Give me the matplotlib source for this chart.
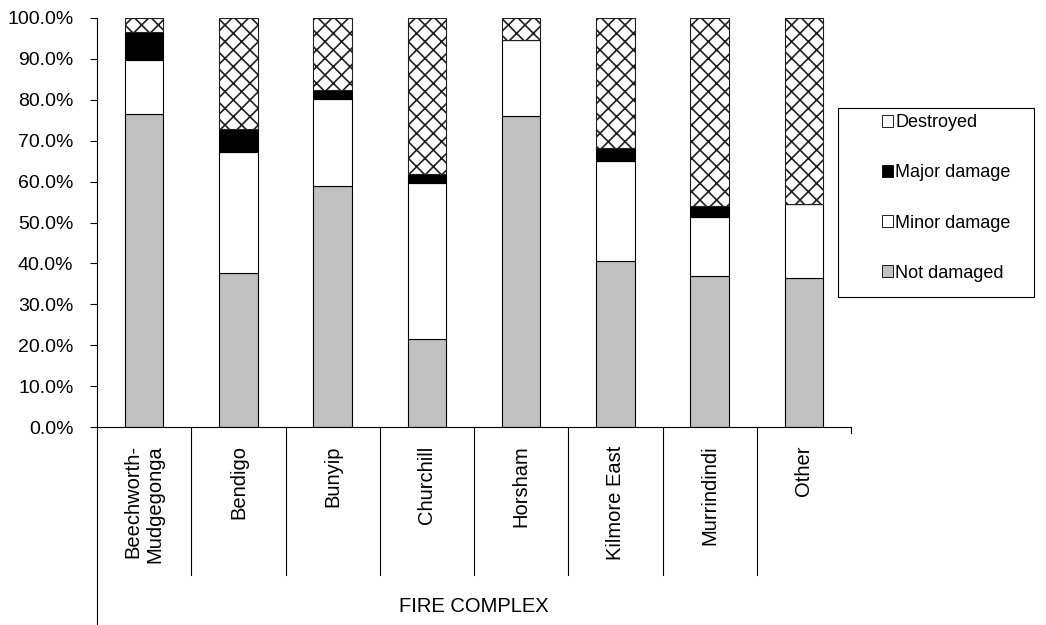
import numpy as np
import matplotlib
matplotlib.use("Agg")
import matplotlib.pyplot as plt
import matplotlib.transforms as mtransforms
from matplotlib.patches import Patch, Rectangle
from matplotlib.ticker import PercentFormatter

plt.rcParams['font.family'] = ['Liberation Sans', 'DejaVu Sans']
plt.rcParams['hatch.linewidth'] = 1.2

# data (percent of buildings per fire complex)
complexes = ["Beechworth-\nMudgegonga", "Bendigo", "Bunyip", "Churchill",
             "Horsham", "Kilmore East", "Murrindindi", "Other"]
not_damaged = [76.6, 37.7, 58.9, 21.6, 76.1, 40.5, 36.8, 36.4]
minor_damage = [13.1, 29.6, 21.3, 38.1, 18.4, 24.6, 14.5, 18.1]
major_damage = [6.8, 5.5, 2.2, 2.1, 0.0, 3.1, 2.7, 0.0]
destroyed = [3.5, 27.2, 17.6, 38.2, 5.5, 31.8, 46.0, 45.5]

fig = plt.figure(figsize=(10.46, 6.25), dpi=100)
W, H = 1046, 625
ax = fig.add_axes([97 / W, (H - 427) / H, (851 - 97) / W, (427 - 18) / H])

x = np.arange(len(complexes))
w = 0.41
bottom = np.zeros(len(complexes))
ax.bar(x, not_damaged, w, bottom=bottom, color="#c0c0c0", edgecolor="black", linewidth=0.8)
bottom += not_damaged
ax.bar(x, minor_damage, w, bottom=bottom, color="white", edgecolor="black", linewidth=0.8)
bottom += minor_damage
ax.bar(x, major_damage, w, bottom=bottom, color="black", edgecolor="black", linewidth=0.8)
bottom += major_damage
ax.bar(x, destroyed, w, bottom=bottom, color="white", edgecolor="#202020", linewidth=0.8, hatch="xx")

ax.set_xlim(-0.5, len(complexes) - 0.5)
ax.set_ylim(0, 100)
ax.set_yticks(np.arange(0, 101, 10))
ax.yaxis.set_major_formatter(PercentFormatter(100, decimals=1))
ax.tick_params(axis="y", direction="out", length=5, width=0.8, pad=12, labelsize=14)
ax.set_xticks([])
for s in ["top", "right"]:
    ax.spines[s].set_visible(False)
ax.spines["left"].set_linewidth(0.8)
ax.spines["bottom"].set_linewidth(0.8)

# multi-level category axis
trans = mtransforms.blended_transform_factory(ax.transData, ax.transAxes)
for i, name in enumerate(complexes):
    ax.text(i, -0.045, name, transform=trans, rotation=90, ha="center", va="top",
            fontsize=14.5, multialignment="right")
for k in range(len(complexes) - 1):
    ax.plot([k + 0.5, k + 0.5], [0, -0.362], color="black", lw=0.8,
            transform=trans, clip_on=False)
ax.plot([len(complexes) - 0.5] * 2, [0, -0.015], color="black", lw=0.8,
        transform=trans, clip_on=False)
ax.plot([-0.5, -0.5], [0, -0.484], color="black", lw=0.8,
        transform=trans, clip_on=False)
ax.text(0.5, -0.44, "FIRE COMPLEX", transform=ax.transAxes, ha="center",
        va="center", fontsize=14.5)

# legend with its own frame
fig.patches.append(Rectangle((838 / W, (H - 297) / H), (1034 - 838) / W, (297 - 108) / H,
                             transform=fig.transFigure, facecolor="white",
                             edgecolor="black", linewidth=0.8))
handles = [Patch(facecolor="white", edgecolor="black", linewidth=0.6),
           Patch(facecolor="black", edgecolor="black", linewidth=0.6),
           Patch(facecolor="white", edgecolor="black", linewidth=0.6),
           Patch(facecolor="#c0c0c0", edgecolor="black", linewidth=0.6)]
labels = ["Destroyed", "Major damage", "Minor damage", "Not damaged"]
fig.legend(handles, labels, loc="upper left", bbox_to_anchor=(868 / W, 1 - 100 / H),
           frameon=False, fontsize=13, handlelength=0.6, handleheight=0.6,
           handletextpad=0.12, labelspacing=1.83, borderpad=0.3)

fig.savefig("out.png", dpi=100)
